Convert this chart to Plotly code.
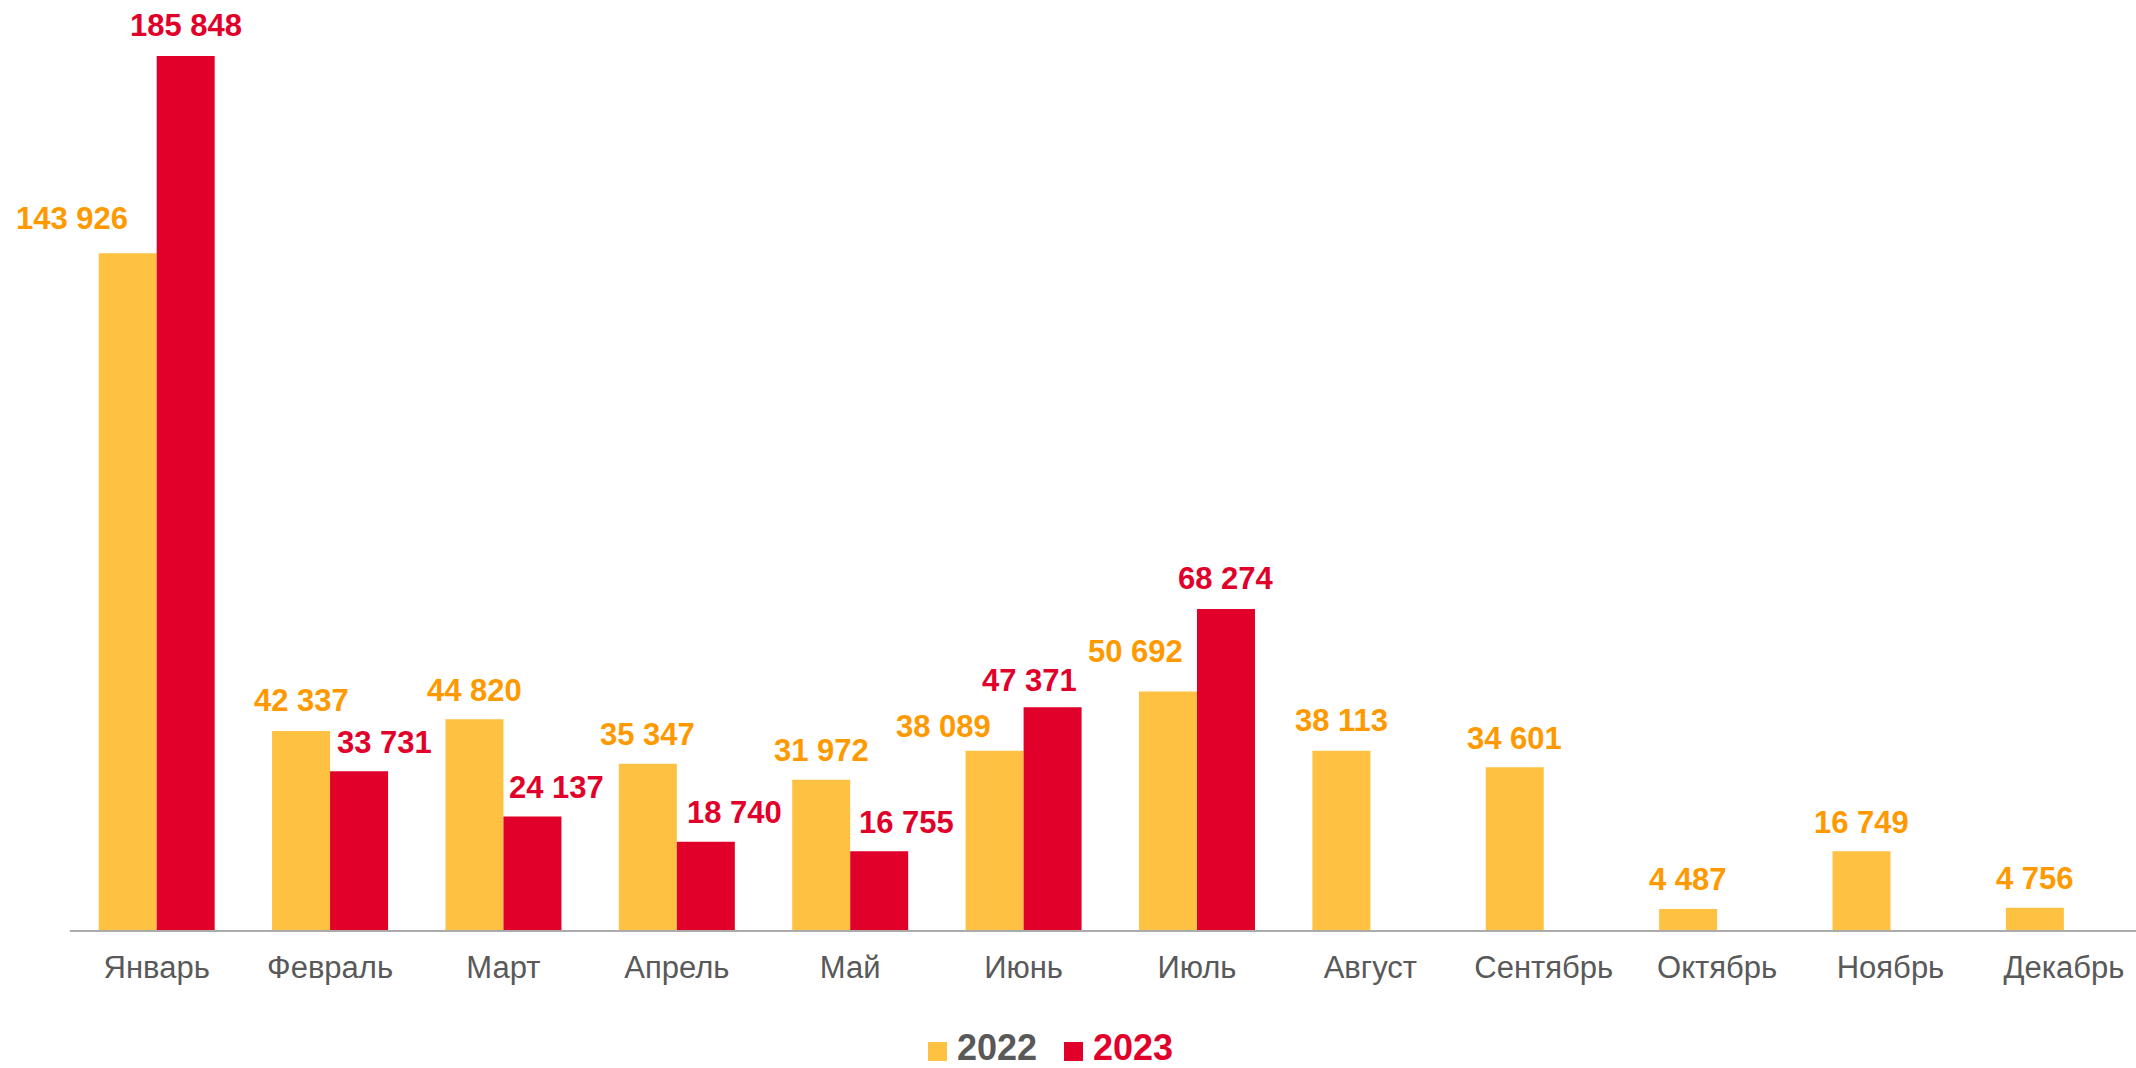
import plotly.graph_objects as go

months = ["Январь", "Февраль", "Март", "Апрель", "Май", "Июнь", "Июль",
          "Август", "Сентябрь", "Октябрь", "Ноябрь", "Декабрь"]
v2022 = [143926, 42337, 44820, 35347, 31972, 38089, 50692, 38113, 34601, 4487, 16749, 4756]
v2023 = [185848, 33731, 24137, 18740, 16755, 47371, 68274, None, None, None, None, None]
series_names = ["2022", "2023"]

# label offsets (pixels) relative to default position above bar
dx2022 = [-56, 0, 0, 0, 0, -51, -32, 0, 0, 0, 0, 0]
dy2022 = [35, 30, 29, 29, 29, 24, 40, 30, 29, 29, 29, 29]
dx2023 = [0, 25, 24, 29, 27, -23, 0, 0, 0, 0, 0, 0]
dy2023 = [30, 29, 29, 29, 29, 27, 30, 0, 0, 0, 0, 0]

C_BAR22 = "#FFC141"
C_LBL22 = "#FF9900"
C_23 = "#E1002A"
C_TXT = "#595959"
FONT = "Liberation Sans, Arial, sans-serif"

W, H = 2136, 1068
ML, MR, MT, MB = 70, 0, 20, 138
PW, PH = W - ML - MR, H - MT - MB
X_RANGE = [-0.5, 11.416]
UNIT = PW / (X_RANGE[1] - X_RANGE[0])
BAR_W = 0.1675  # half group offset in category units

fig = go.Figure()
fig.add_trace(go.Bar(x=months, y=v2022, name=series_names[0], marker_color=C_BAR22,
                     marker_line_width=0, showlegend=False))
fig.add_trace(go.Bar(x=months, y=v2023, name=series_names[1], marker_color=C_23,
                     marker_line_width=0, showlegend=False))


def fmt(v):
    return f"{v:,}".replace(",", " ")


annotations = []
for i, m in enumerate(months):
    for vals, dx, dy, col, off in ((v2022, dx2022, dy2022, C_LBL22, -1),
                                   (v2023, dx2023, dy2023, C_23, 1)):
        v = vals[i]
        if v is None:
            continue
        annotations.append(dict(
            x=m, y=v, xref="x", yref="y", text=fmt(v), showarrow=False,
            xanchor="center", yanchor="middle",
            xshift=off * BAR_W * UNIT + dx[i],
            yshift=dy[i],
            font=dict(family=FONT, size=31, color=col, weight="bold"),
        ))


# legend (manual)
def px_to_paper_x(px):
    return (px - ML) / PW


def px_to_paper_y(py):
    return (H - MB - py) / PH


shapes = []
for x0, col in ((928, C_BAR22), (1064, C_23)):
    shapes.append(dict(type="rect", xref="paper", yref="paper",
                       x0=px_to_paper_x(x0), x1=px_to_paper_x(x0 + 19),
                       y0=px_to_paper_y(1042), y1=px_to_paper_y(1061),
                       fillcolor=col, line=dict(width=0)))
for name, xl, col in ((series_names[0], 955, C_TXT), (series_names[1], 1091, C_23)):
    annotations.append(dict(xref="paper", yref="paper", x=px_to_paper_x(xl), y=px_to_paper_y(1047),
                            xanchor="left", yanchor="middle", text=name, showarrow=False,
                            font=dict(family=FONT, size=36, color=col, weight="bold")))

fig.update_layout(
    width=W, height=H,
    margin=dict(l=ML, r=MR, t=MT, b=MB, pad=0),
    plot_bgcolor="white", paper_bgcolor="white",
    barmode="group", bargap=0.331, bargroupgap=0,
    annotations=annotations, shapes=shapes,
    xaxis=dict(range=X_RANGE, showline=True, linecolor="#ABABAB", linewidth=2,
               ticks="outside", ticklen=9, tickcolor="rgba(0,0,0,0)",
               tickfont=dict(family=FONT, size=31, color=C_TXT), showgrid=False, zeroline=False),
    yaxis=dict(range=[0, 193500], showticklabels=False, showgrid=False, zeroline=False,
               showline=False),
)

fig.write_html("out.html", config={"displayModeBar": False},
               post_script="document.body.style.margin='0';document.body.style.overflow='hidden';")
